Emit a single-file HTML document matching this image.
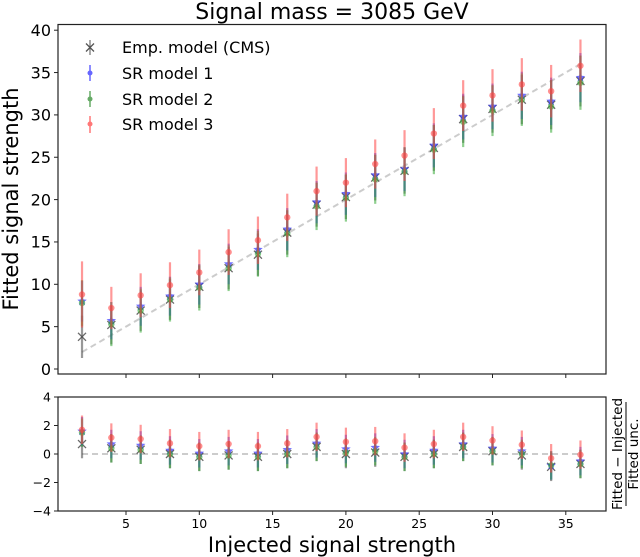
<!DOCTYPE html>
<html><head><meta charset="utf-8"><style>
body{margin:0;background:#fff;}
svg{display:block;font-family:"DejaVu Sans","Liberation Sans",sans-serif;}
</style></head><body>
<svg id="chart" width="640" height="557" viewBox="0 0 640 557" xmlns="http://www.w3.org/2000/svg">
<text x="332" y="19" font-size="22" text-anchor="middle">Signal mass = 3085 GeV</text>
<text transform="translate(18,199) rotate(-90)" font-size="21" text-anchor="middle">Fitted signal strength</text>
<text x="332" y="552" font-size="21" text-anchor="middle">Injected signal strength</text>
<g font-size="13.5">
<text transform="translate(622,454) rotate(-90)" text-anchor="middle">Fitted − Injected</text>
<line x1="626" y1="402" x2="626" y2="506" stroke="#000" stroke-width="1"/>
<text transform="translate(638,454) rotate(-90)" text-anchor="middle">Fitted unc.</text>
</g>
<g id="main"></g>
<g id="pull"></g>
<g font-size="16">
<g><line x1="90" y1="40" x2="90" y2="55" stroke="#555"/><path d="M86,43.5l8,8M94,43.5l-8,8" stroke="#555" stroke-width="1.3"/><text x="122" y="53">Emp. model (CMS)</text></g>
<g><line x1="90" y1="65" x2="90" y2="81" stroke="#66f" stroke-width="1.5"/><circle cx="90" cy="73" r="2.5" fill="#66f"/><text x="122" y="79">SR model 1</text></g>
<g><line x1="90" y1="91" x2="90" y2="107" stroke="#6a6" stroke-width="1.5"/><circle cx="90" cy="99" r="2.5" fill="#6a6"/><text x="122" y="105">SR model 2</text></g>
<g><line x1="90" y1="116" x2="90" y2="133" stroke="#f77" stroke-width="1.5"/><circle cx="90" cy="124" r="2.5" fill="#f77"/><text x="122" y="130">SR model 3</text></g>
</g>
</svg>
<script>
const injected=[2,4,6,8,10,12,14,16,18,20,22,24,26,28,30,32,34,36];
const cmsFit=[3.8,5.2,6.9,8.2,9.7,11.9,13.5,16.1,19.4,20.3,22.6,23.4,26.1,29.5,30.7,31.8,31.2,34.0];
const sr1Fit=[8.0,5.7,7.4,8.6,10.0,12.4,14.1,16.5,19.7,20.7,22.9,23.6,26.4,29.8,31.0,32.3,31.6,34.4];
const sr2Fit=[7.8,5.3,6.9,8.2,9.6,11.9,13.6,16.0,19.2,20.2,22.4,23.3,25.9,29.2,30.5,31.8,31.0,33.8];
const sr3Fit=[8.8,7.2,8.7,9.9,11.4,13.8,15.2,17.9,21.0,22.0,24.2,25.2,27.8,31.1,32.3,33.6,32.8,35.8];
const cmsErr=[2.5,2.3,2.4,2.4,2.5,2.5,2.5,2.6,2.6,2.6,2.7,2.7,2.7,2.8,2.8,2.9,2.9,3.0];
const sr1Err=[2.4,2.2,2.3,2.3,2.4,2.4,2.4,2.5,2.5,2.5,2.6,2.6,2.6,2.7,2.7,2.8,2.8,2.9];
const sr2Err=[2.7,2.6,2.6,2.6,2.7,2.7,2.7,2.8,2.8,2.8,2.9,2.9,2.9,3.0,3.0,3.1,3.1,3.2];
const sr3Err=[3.9,2.5,2.6,2.7,2.7,2.7,2.8,2.8,2.9,2.9,2.9,3.0,3.0,3.0,3.1,3.1,3.1,3.1];
const cmsPull=[0.7,0.4,0.3,0.0,-0.2,-0.1,-0.2,0.0,0.5,0.0,0.1,-0.2,0.0,0.5,0.2,-0.1,-0.9,-0.7];
const sr1Pull=[1.6,0.7,0.6,0.25,0.05,0.2,0.05,0.3,0.75,0.35,0.45,0.0,0.25,0.7,0.4,0.2,-0.8,-0.5];
const sr2Pull=[1.5,0.4,0.3,0.0,-0.2,-0.1,-0.2,0.0,0.5,0.1,0.2,-0.2,0.0,0.5,0.2,0.0,-0.8,-0.7];
const sr3Pull=[1.7,1.15,1.05,0.75,0.55,0.7,0.55,0.75,1.2,0.85,0.9,0.45,0.7,1.2,0.95,0.65,-0.3,-0.05];
const xTicks=[5,10,15,20,25,30,35];
const yTicksMain=[0,5,10,15,20,25,30,35,40];
const yTicksPull=[-4,-2,0,2,4];

const NS="http://www.w3.org/2000/svg";
const L=58,R=606;
const xs=v=>52.7+v*14.66;
const ym=v=>369-v*8.47;
const yp=v=>454-v*14.25;
function mk(p,tag,a){const e=document.createElementNS(NS,tag);for(const k in a)e.setAttribute(k,a[k]);p.appendChild(e);return e;}
const main=document.getElementById('main'),pull=document.getElementById('pull');

function panel(g,top,bot,ys,ticks,fs,name){
  const bx=mk(g,'rect',{x:L,y:top,width:R-L,height:bot-top,fill:'none',stroke:'#222','stroke-width':1.2});
  
  
  ticks.forEach(t=>{
    mk(g,'line',{x1:L-4,x2:L,y1:ys(t),y2:ys(t),stroke:'#222'});
    const tx=mk(g,'text',{x:L-7,y:ys(t)+fs*0.36,'font-size':fs,'text-anchor':'end'});
    tx.textContent=String(t).replace('-','\u2212');
    
    
  });
  xTicks.forEach(t=>{mk(g,'line',{x1:xs(t),x2:xs(t),y1:bot,y2:bot+4,stroke:'#222'});});
}
panel(main,24.5,374,ym,yTicksMain,16,'main');
panel(pull,397,511,yp,yTicksPull,12.5,'pull');
xTicks.forEach(t=>{
  const tx=mk(pull,'text',{x:xs(t),y:528,'font-size':12.5,'text-anchor':'middle'});
  tx.textContent=t;
  
  
});
const diag=mk(main,'line',{x1:xs(2),y1:ym(2),x2:xs(36),y2:ym(36),stroke:'#ccc','stroke-width':2,'stroke-dasharray':'6,4'});


const zl=mk(pull,'line',{x1:xs(2),y1:yp(0),x2:xs(36),y2:yp(0),stroke:'#ccc','stroke-width':2,'stroke-dasharray':'6,4'});



function star(cx,cy,r){let p=[];for(let i=0;i<10;i++){const a=-Math.PI/2+i*Math.PI/5,rr=i%2?r*0.45:r;p.push((cx+rr*Math.cos(a)).toFixed(1)+','+(cy+rr*Math.sin(a)).toFixed(1));}return p.join(' ');}
function series(g,ys,vals,errs,color,marker,name){
  injected.forEach((x,i)=>{
    const cx=xs(x),cy=ys(vals[i]),e=errs?errs[i]:1;
    const grp=mk(g,'g',{});
    
    
    mk(grp,'line',{x1:cx,x2:cx,y1:ys(vals[i]-e),y2:ys(vals[i]+e),stroke:color,'stroke-width':2.2,'stroke-opacity':0.55});
    if(marker==='x'){mk(grp,'path',{d:`M${cx-4},${cy-4}l8,8M${cx+4},${cy-4}l-8,8`,stroke:color,'stroke-width':1.3,'stroke-opacity':0.8});}
    else if(marker==='star'){mk(grp,'polygon',{points:star(cx,cy,5),fill:color,'fill-opacity':0.7});}
    else{mk(grp,'circle',{cx:cx,cy:cy,r:3.2,fill:color,'fill-opacity':0.6});}
  });
}
series(main,ym,cmsFit,cmsErr,'#444','x','cms');
series(main,ym,sr1Fit,sr1Err,'#33f','star','sr1');
series(main,ym,sr2Fit,sr2Err,'#3a3','dot','sr2');
series(main,ym,sr3Fit,sr3Err,'#f44','dot','sr3');
series(pull,yp,cmsPull,null,'#444','x','cms-pull');
series(pull,yp,sr1Pull,null,'#33f','star','sr1-pull');
series(pull,yp,sr2Pull,null,'#3a3','dot','sr2-pull');
series(pull,yp,sr3Pull,null,'#f44','dot','sr3-pull');
</script>
</body></html>
